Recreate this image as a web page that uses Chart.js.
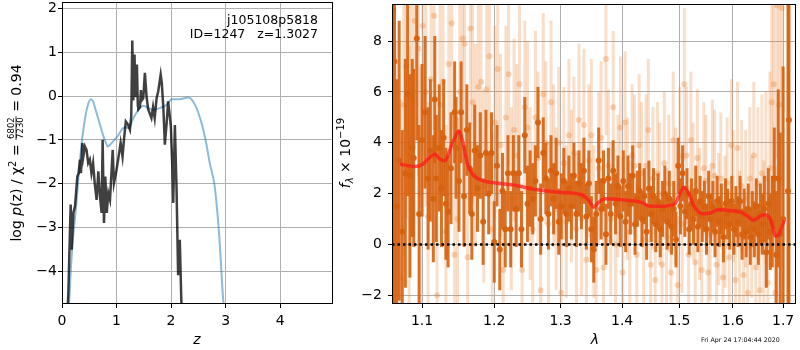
<!DOCTYPE html>
<html>
<head>
<meta charset="utf-8">
<script src="https://cdn.jsdelivr.net/npm/chart.js@4.4.1/dist/chart.umd.min.js"></script>
<style>
  body { margin: 0; background: #fff; width: 800px; height: 350px; overflow: hidden; position: relative; }
  canvas { position: absolute; top: 0; }
  #pz { left: 0; }
  #spec { left: 335px; }
</style>
</head>
<body>
<canvas id="pz" width="335" height="350"></canvas>
<canvas id="spec" width="465" height="350"></canvas>
<script>
// ---- left panel: log p(z) ----
const zTicks = [0, 1, 2, 3, 4];
const pzTicks = [-4, -3, -2, -1, 0, 1, 2];

const darkZ = [0.10, 0.116, 0.159, 0.177, 0.208, 0.238, 0.281, 0.305, 0.33, 0.348, 0.373, 0.391, 0.42, 0.45,
  0.48, 0.51, 0.54, 0.57, 0.60, 0.635, 0.666, 0.696, 0.727, 0.745, 0.77, 0.794, 0.82, 0.85, 0.88, 0.91,
  0.93, 0.953, 0.99, 1.03, 1.075, 1.11, 1.136, 1.17, 1.21, 1.246, 1.27, 1.289, 1.307, 1.33, 1.345, 1.356,
  1.374, 1.39, 1.40, 1.43, 1.447, 1.46, 1.49, 1.52, 1.55, 1.58, 1.61, 1.64, 1.67, 1.70, 1.735, 1.765,
  1.81, 1.83, 1.86, 1.886, 1.92, 1.947, 1.98, 1.996, 2.02, 2.04, 2.07, 2.10, 2.13, 2.16, 2.19, 2.2];
const darkLogp = [-5.0, -4.5, -2.48, -3.51, -2.67, -2.52, -1.84, -1.76, -1.45, -1.76, -1.07, -1.38, -1.15, -1.23,
  -1.53, -1.45, -1.76, -1.53, -1.99, -2.37, -1.72, -2.29, -2.67, -1.0, -2.9, -1.84, -2.67, -2.22, -2.37, -1.68,
  -1.23, -1.99, -1.76, -1.45, -1.07, -1.38, -1.0, -0.58, -0.65, -0.77, -0.46, 1.27, -0.1, 0.95, 0.0, 0.25,
  0.72, -0.2, -0.3, -0.25, 0.14, -0.1, -0.05, 0.53, 0.0, -0.3, -0.4, -0.5, -0.25, -0.5, -0.05, 0.11,
  0.49, 0.3, -0.3, -1.11, -0.6, -0.12, -0.5, -0.69, -1.5, -2.44, -0.66, -2.07, -4.09, -3.28, -4.75, -5.4];

const blueZ = [0.12, 0.165, 0.21, 0.26, 0.30, 0.36, 0.40, 0.44, 0.48, 0.525, 0.57, 0.62, 0.67, 0.72, 0.76, 0.80,
  0.84, 0.89, 0.94, 1.03, 1.12, 1.17, 1.22, 1.31, 1.43, 1.49, 1.58, 1.67, 1.80, 1.92, 2.01, 2.16, 2.32,
  2.44, 2.56, 2.64, 2.71, 2.80, 2.88, 2.96, 3.0];
const blueLogp = [-5.0, -3.89, -3.13, -2.52, -1.9, -1.08, -0.7, -0.39, -0.18, -0.07, -0.12, -0.33, -0.54, -0.75,
  -0.92, -1.05, -1.15, -1.1, -1.03, -0.9, -0.73, -0.72, -0.73, -0.50, -0.27, -0.22, -0.27, -0.31, -0.27, -0.20,
  -0.07, -0.07, -0.03, -0.2, -0.62, -1.05, -1.53, -2.06, -3.13, -4.74, -5.3];

// ---- right panel: spectrum ----
const lamTicks = [1.1, 1.2, 1.3, 1.4, 1.5, 1.6, 1.7];
const fluxTicks = [-2, 0, 2, 4, 6, 8];

const darkLam = [1.062, 1.064, 1.067, 1.070, 1.074, 1.078, 1.081, 1.084, 1.087, 1.089, 1.093, 1.096, 1.100, 1.104,
  1.108, 1.111, 1.115, 1.117, 1.119, 1.123, 1.126, 1.129, 1.132, 1.135, 1.139, 1.144, 1.146, 1.150, 1.153,
  1.157, 1.161, 1.165, 1.168, 1.172, 1.176, 1.180, 1.184, 1.188, 1.192, 1.196, 1.200, 1.204, 1.208, 1.212,
  1.216, 1.220, 1.224, 1.228, 1.232, 1.236, 1.240, 1.245, 1.249, 1.253, 1.257, 1.261, 1.265, 1.269, 1.273,
  1.277, 1.281, 1.285, 1.289, 1.293, 1.297, 1.301, 1.305, 1.309, 1.313, 1.317, 1.321, 1.325, 1.329, 1.333,
  1.337, 1.341, 1.345, 1.349, 1.353, 1.357, 1.361, 1.365, 1.369, 1.373, 1.377, 1.381, 1.385, 1.389, 1.393,
  1.397, 1.402, 1.406, 1.410, 1.414, 1.418, 1.422, 1.426, 1.430, 1.434, 1.438, 1.442, 1.446, 1.450, 1.454,
  1.458, 1.462, 1.466, 1.470, 1.474, 1.478, 1.482, 1.486, 1.490, 1.494, 1.498, 1.502, 1.506, 1.510, 1.514,
  1.518, 1.522, 1.526, 1.530, 1.534, 1.538, 1.542, 1.546, 1.550, 1.554, 1.558, 1.562, 1.566, 1.570, 1.574,
  1.578, 1.582, 1.586, 1.590, 1.594, 1.598, 1.602, 1.606, 1.610, 1.614, 1.618, 1.622, 1.626, 1.630, 1.634,
  1.638, 1.642, 1.646, 1.650, 1.654, 1.658, 1.662, 1.666, 1.670, 1.674, 1.678, 1.682, 1.686, 1.690, 1.694,
  1.700, 1.710, 1.712];
const darkFlux = [9.2, 7.2, 1.5, 3.3, 0.5, 2.8, 5.9, 2.7, 3.8, 3.4, 8.1, 1.2, 4.1, 5.2,
  2.6, 3.7, 1.8, 5.7, 2.6, 3.8, 2.2, 4.2, 1.6, 1.3, 3.0, 5.2, 3.8, 2.5, 5.2,
  1.9, 4.5, 3.0, 1.2, 3.7, 2.2, 3.5, 0.9, 3.6, 2.0, 3.6, 0.1, 3.1, -0.2, 2.1,
  0.6, 2.8, 0.6, 2.8, 1.4, 2.8, 0.6, 4.3, 1.6, 2.2, 1.8, 2.5, 4.8, 1.0, 3.6,
  2.6, 1.2, 2.9, 1.8, 2.8, 0.9, 1.5, 2.5, 1.2, 2.2, 1.5, 2.7, 1.2, 2.4, 1.9,
  2.9, 1.1, 2.4, 0.6, -0.2, 1.2, 3.3, 1.4, 2.5, 0.4, 2.6, 1.2, 2.9, 1.6, 2.3,
  1.1, 2.5, 0.9, 2.3, 1.6, 2.7, 0.8, 1.8, 2.1, 1.0, 1.9, 0.5, 2.2, 1.2, 1.9,
  0.8, 1.7, 0.6, 1.4, 2.0, 0.9, 1.8, 0.7, 1.4, 0.2, 3.1, 1.5, 2.8, 1.3, 2.0,
  0.6, 1.6, 1.0, 2.1, 0.7, 1.7, 1.1, 1.5, 0.6, 1.9, 1.0, 1.5, 0.5, 1.7, 0.9,
  1.4, 0.3, 1.6, 1.2, 0.8, 1.7, 0.6, 1.3, 0.9, 1.7, 0.4, 1.2, 0.5, 1.4, 0.3,
  1.0, 0.6, 1.5, 0.4, 1.2, 0.8, 1.4, -0.3, 1.6, 0.5, 0.9, 2.6, -0.4, 2.6, 0.4,
  1.0, 2.1, 4.9];
const darkErr = [14, 14, 5, 5.5, 4, 4.5, 4, 4, 3.5, 3.5, 4, 3.5, 3, 3,
  2.8, 2.8, 2.5, 2.5, 2.5, 2.5, 2.3, 2.3, 2.2, 2.2, 2.2, 2.0, 2.0, 2.0, 2.0,
  2.0, 1.8, 1.8, 1.8, 1.8, 1.7, 1.7, 1.7, 1.7, 1.6, 1.6, 1.6, 1.6, 1.6, 1.5,
  1.5, 1.5, 1.5, 1.5, 1.5, 1.5, 1.5, 1.5, 1.5, 1.5, 1.4, 1.4, 1.4, 1.4, 1.4,
  1.4, 1.4, 1.4, 1.4, 1.4, 1.3, 1.3, 1.3, 1.3, 1.3, 1.3, 1.3, 1.3, 1.3, 1.3,
  1.3, 1.3, 1.3, 1.3, 1.3, 1.3, 1.3, 1.2, 1.2, 1.2, 1.2, 1.2, 1.2, 1.2, 1.2,
  1.2, 1.2, 1.2, 1.2, 1.2, 1.2, 1.2, 1.1, 1.1, 1.1, 1.1, 1.1, 1.1, 1.1, 1.1,
  1.1, 1.1, 1.1, 1.1, 1.1, 1.1, 1.1, 1.1, 1.1, 1.1, 1.1, 1.1, 1.1, 1.0, 1.0,
  1.0, 1.0, 1.0, 1.0, 1.0, 1.0, 1.0, 1.0, 1.0, 1.0, 1.0, 1.0, 1.0, 1.0, 1.0,
  1.0, 1.0, 1.0, 1.0, 1.0, 1.0, 1.0, 1.0, 1.0, 1.0, 1.0, 1.0, 1.0, 1.0, 1.1,
  1.1, 1.1, 1.1, 1.2, 1.2, 1.2, 1.3, 1.4, 1.4, 1.5, 1.8, 2.0, 2.5, 3.5, 4,
  6, 14, 14];

const lightLam = [1.066, 1.072, 1.076, 1.079, 1.083, 1.086, 1.090, 1.095, 1.098, 1.101, 1.105, 1.108, 1.112, 1.116,
  1.120, 1.124, 1.128, 1.132, 1.136, 1.140, 1.144, 1.148, 1.151, 1.155, 1.158, 1.162, 1.166, 1.169, 1.173,
  1.177, 1.181, 1.185, 1.189, 1.193, 1.197, 1.201, 1.205, 1.209, 1.213, 1.217, 1.221, 1.225, 1.229, 1.233,
  1.237, 1.241, 1.245, 1.249, 1.253, 1.257, 1.261, 1.265, 1.269, 1.273, 1.277, 1.281, 1.285, 1.289, 1.293,
  1.297, 1.301, 1.305, 1.309, 1.313, 1.317, 1.321, 1.325, 1.329, 1.333, 1.337, 1.341, 1.345, 1.349, 1.353,
  1.357, 1.361, 1.365, 1.369, 1.373, 1.377, 1.381, 1.385, 1.389, 1.393, 1.397, 1.401, 1.405, 1.409, 1.413,
  1.417, 1.421, 1.425, 1.429, 1.433, 1.437, 1.441, 1.445, 1.449, 1.453, 1.457, 1.461, 1.465, 1.469, 1.473,
  1.477, 1.481, 1.485, 1.489, 1.493, 1.497, 1.501, 1.505, 1.509, 1.513, 1.517, 1.521, 1.525, 1.529, 1.533,
  1.537, 1.541, 1.545, 1.549, 1.553, 1.557, 1.561, 1.565, 1.569, 1.573, 1.577, 1.581, 1.585, 1.589, 1.593,
  1.597, 1.601, 1.605, 1.609, 1.613, 1.617, 1.621, 1.625, 1.629, 1.633, 1.637, 1.641, 1.645, 1.649, 1.653,
  1.657, 1.661, 1.665, 1.669, 1.673, 1.677, 1.681, 1.684, 1.687, 1.692, 1.697];
const lightFlux = [0.0, -1.3, 5.5, 7.0, 2.3, 5.8, 8.8, 7.7, 2.0, 8.6, 6.0, 1.1, 6.5, 9.0,
  -2.0, 5.5, 6.4, 0.5, 7.1, 8.7, -0.4, 1.0, 6.0, 8.1, 7.9, -0.5, 8.5, 5.6, 3.9,
  6.2, 6.4, 2.3, 6.1, 7.4, 0.6, 4.8, 6.9, 3.9, -1.0, 5.0, 6.7, 1.8, 4.5, 3.5,
  6.3, -1.0, 5.4, 4.6, 2.0, 0.6, 5.0, 3.4, -1.8, 5.9, 4.0, 0.8, 5.6, 3.1, 1.4,
  4.0, -1.9, 3.2, 0.9, 4.3, 2.3, 3.6, 0.6, 4.9, 1.0, 4.7, -0.6, 3.3, 4.3, 0.9,
  -1.0, 3.0, 4.2, -0.9, 7.3, 3.1, 1.0, 5.4, 0.0, 2.3, 4.6, -1.1, 4.8, 2.2, 0.5,
  3.5, 3.1, -0.4, 3.9, 2.8, 0.2, 3.1, 4.5, -0.8, 2.6, -1.4, 2.8, 2.0, -0.8, 3.2,
  0.3, 2.4, -1.1, 4.1, 1.9, -1.6, 3.5, 0.8, 6.3, 3.5, -0.4, 4.1, 2.1, -0.7, 3.4,
  1.2, -1.0, 3.0, 2.5, -1.1, 0.4, 3.1, 2.7, -0.8, 1.0, 2.6, -1.3, 0.9, 2.4, -0.5,
  3.9, 1.9, -1.4, 3.8, 0.3, 2.3, -1.2, 1.8, -1.9, 2.6, 0.7, 3.5, -0.9, 2.4, -1.8,
  2.8, 0.1, 2.6, -1.5, 3.0, 5.6, 6.3, -1.9, 9.4, 5.5, 9.3];
const lightErr = [8, 7, 6, 6, 5.5, 5.5, 5, 5, 5, 4.5, 4.5, 4.5, 4.5, 4.5,
  4.2, 4.2, 4.2, 4.2, 4.2, 4.2, 4.2, 4.0, 4.0, 4.0, 4.0, 4.0, 4.0, 4.0, 4.0,
  3.8, 3.8, 3.8, 3.8, 3.8, 3.8, 3.8, 3.8, 3.6, 3.6, 3.6, 3.6, 3.6, 3.6, 3.6,
  3.4, 3.4, 3.4, 3.4, 3.4, 3.4, 3.4, 3.4, 3.2, 3.2, 3.2, 3.2, 3.2, 3.2, 3.2,
  3.0, 3.0, 3.0, 3.0, 3.0, 3.0, 3.0, 3.0, 3.0, 3.0, 3.0, 3.0, 3.0, 3.0, 3.0,
  3.0, 3.0, 3.0, 3.0, 3.0, 3.0, 3.0, 3.0, 2.8, 2.8, 2.8, 2.8, 2.8, 2.8, 2.8,
  2.8, 2.8, 2.8, 2.8, 2.8, 2.8, 2.8, 2.8, 2.8, 2.8, 2.8, 2.8, 2.8, 2.8, 2.8,
  2.7, 2.7, 2.7, 2.7, 2.7, 2.7, 2.7, 2.7, 3.0, 2.7, 2.7, 2.7, 2.7, 2.7, 2.7,
  2.6, 2.6, 2.6, 2.6, 2.6, 2.6, 2.6, 2.6, 2.6, 2.6, 2.6, 2.6, 2.6, 2.6, 2.6,
  2.6, 2.6, 2.6, 2.6, 2.6, 2.6, 2.6, 2.7, 2.7, 2.8, 2.8, 2.9, 2.9, 3.0, 3.0,
  3.1, 3.2, 3.4, 3.6, 3.8, 4.2, 4.6, 5, 6, 6, 7];

const modelLam = [1.071, 1.090, 1.101, 1.110, 1.117, 1.124, 1.130, 1.142, 1.150, 1.155, 1.162, 1.169, 1.183, 1.202,
  1.232, 1.261, 1.302, 1.334, 1.345, 1.353, 1.361, 1.372, 1.399, 1.433, 1.448, 1.468, 1.492, 1.501, 1.508,
  1.516, 1.528, 1.543, 1.559, 1.571, 1.597, 1.616, 1.629, 1.640, 1.655, 1.665, 1.675, 1.685, 1.692, 1.702];
const modelFlux = [3.16, 3.07, 3.16, 3.42, 3.55, 3.36, 3.29, 4.07, 4.46, 4.07, 3.16, 2.77, 2.51, 2.42,
  2.32, 2.16, 2.05, 1.95, 1.73, 1.47, 1.66, 1.80, 1.76, 1.66, 1.50, 1.50, 1.60, 1.99, 2.25,
  2.05, 1.47, 1.21, 1.25, 1.37, 1.33, 1.27, 1.11, 0.95, 1.14, 1.17, 0.95, 0.33, 0.43, 0.95];

const zeroLam = [1.0608, 1.7266];
const zeroFlux = [0, 0];

// ---- helpers ----
const FONT = '"DejaVu Sans", sans-serif';
Chart.defaults.font.family = FONT;
Chart.defaults.font.size = 14;
Chart.defaults.color = '#000';

const pts = (xs, ys) => xs.map((x, i) => ({ x: x, y: ys[i] }));
const setTicks = values => scale => { scale.ticks = values.map(v => ({ value: v })); };
const minus = v => (v < 0 ? '\u2212' + Math.abs(v) : String(v));
const fitWidth = w => s => { s.width = w; s.paddingTop = 0; s.paddingBottom = 0; };
const fitHeight = h => s => { s.height = h; s.paddingLeft = 0; s.paddingRight = 0; };

// black box around the plot area, like matplotlib spines
const frame = {
  id: 'frame',
  afterDraw(chart) {
    const { ctx, chartArea: a } = chart;
    ctx.save();
    ctx.strokeStyle = '#000';
    ctx.lineWidth = 1;
    ctx.strokeRect(a.left + 0.5, a.top + 0.5, a.width - 1, a.height - 1);
    ctx.restore();
  }
};

// vertical error bars drawn right before each dataset's markers
const errorBars = {
  id: 'errorBars',
  beforeDatasetDraw(chart, args) {
    const ds = chart.data.datasets[args.index];
    if (!ds.errors) return;
    const { ctx, chartArea: a, scales } = chart;
    ctx.save();
    ctx.beginPath();
    ctx.rect(a.left, a.top, a.width, a.height);
    ctx.clip();
    ctx.strokeStyle = ds.barColor;
    ctx.lineWidth = ds.barWidth;
    ds.data.forEach((p, i) => {
      const x = scales.x.getPixelForValue(p.x);
      ctx.beginPath();
      ctx.moveTo(x, scales.y.getPixelForValue(p.y - ds.errors[i]));
      ctx.lineTo(x, scales.y.getPixelForValue(p.y + ds.errors[i]));
      ctx.stroke();
    });
    ctx.restore();
  }
};

// draws a run of text pieces along the current baseline, centred on 0
function richText(ctx, parts) {
  let total = 0;
  parts.forEach(p => {
    ctx.font = p.font;
    if (p.frac) {
      p.w = Math.max(ctx.measureText(p.frac[0]).width, ctx.measureText(p.frac[1]).width) + 2;
    } else {
      p.w = ctx.measureText(p.t).width;
    }
    total += p.w;
  });
  let x = -total / 2;
  ctx.textAlign = 'left';
  ctx.textBaseline = 'alphabetic';
  parts.forEach(p => {
    ctx.font = p.font;
    if (p.frac) {
      ctx.textAlign = 'center';
      ctx.fillText(p.frac[0], x + p.w / 2, p.num);
      ctx.fillText(p.frac[1], x + p.w / 2, p.den);
      ctx.fillRect(x, p.bar, p.w, 0.8);
      ctx.textAlign = 'left';
    } else {
      ctx.fillText(p.t, x, p.dy || 0);
    }
    x += p.w;
  });
}

const pzTitles = {
  id: 'pzTitles',
  afterDraw(chart) {
    const ctx = chart.ctx;
    ctx.save();
    ctx.fillStyle = '#000';
    ctx.font = 'italic 14px ' + FONT;
    ctx.textAlign = 'center';
    ctx.fillText('z', 197, 344);
    ctx.font = '12.5px ' + FONT;
    ctx.textAlign = 'right';
    ctx.fillText('j105108p5818', 318, 24);
    ctx.fillText('ID=1247   z=1.3027', 318, 38);
    ctx.translate(21, 153);
    ctx.rotate(-Math.PI / 2);
    const n = '14px ' + FONT, it = 'italic 14px ' + FONT, s = '10px ' + FONT;
    richText(ctx, [
      { t: 'log ', font: n }, { t: 'p', font: it }, { t: '(z) / \u03c7', font: n },
      { t: '2', font: s, dy: -5.5 }, { t: ' = ', font: n },
      { frac: ['6802', '7230'], font: '8.5px ' + FONT, num: -6.6, den: 1.8, bar: -5.4 },
      { t: ' = 0.94', font: n }
    ]);
    ctx.restore();
  }
};

const specTitles = {
  id: 'specTitles',
  afterDraw(chart) {
    const ctx = chart.ctx;
    ctx.save();
    ctx.fillStyle = '#000';
    ctx.font = 'italic 14px ' + FONT;
    ctx.textAlign = 'center';
    ctx.fillText('\u03bb', 260, 344);
    ctx.font = '6.3px ' + FONT;
    ctx.textAlign = 'left';
    ctx.fillText('Fri Apr 24 17:04:44 2020', 366, 342);
    ctx.translate(15, 153);
    ctx.rotate(-Math.PI / 2);
    richText(ctx, [
      { t: 'f', font: 'italic 14px ' + FONT }, { t: '\u03bb', font: 'italic 10px ' + FONT, dy: 3 },
      { t: ' \u00d7 10', font: '14px ' + FONT }, { t: '\u221219', font: '10px ' + FONT, dy: -6 }
    ]);
    ctx.restore();
  }
};

const gridOpts = { color: '#b0b0b0', lineWidth: 1, tickColor: '#000', tickLength: 4 };
const common = {
  responsive: false,
  animation: false,
  events: [],
  plugins: { legend: { display: false }, tooltip: { enabled: false } }
};

new Chart(document.getElementById('pz'), {
  type: 'scatter',
  data: {
    datasets: [
      { data: pts(darkZ, darkLogp), showLine: true, borderColor: 'rgba(0,0,0,0.75)', borderWidth: 2.5, pointRadius: 0,
        order: 1 },
      { data: pts(blueZ, blueLogp), showLine: true, borderColor: 'rgba(31,119,180,0.5)', borderWidth: 2, pointRadius: 0,
        cubicInterpolationMode: 'monotone', order: 2 }
    ]
  },
  options: Object.assign({}, common, {
    layout: { padding: { top: 2, right: 2, left: 0, bottom: 0 } },
    scales: {
      x: { type: 'linear', min: 0, max: 4.97, grid: gridOpts, border: { display: false },
        afterBuildTicks: setTicks(zTicks), afterFit: fitHeight(46), ticks: { padding: 5, callback: minus } },
      y: { type: 'linear', min: -4.75, max: 2.15, grid: gridOpts, border: { display: false },
        afterBuildTicks: setTicks(pzTicks), afterFit: fitWidth(62), ticks: { padding: 1, callback: minus } }
    }
  }),
  plugins: [frame, pzTitles]
});

// lower "order" is drawn on top in Chart.js
new Chart(document.getElementById('spec'), {
  type: 'scatter',
  data: {
    datasets: [
      { data: pts(lightLam, lightFlux), errors: lightErr, barColor: 'rgba(232,122,40,0.25)', barWidth: 3,
        pointRadius: 3, backgroundColor: 'rgba(232,122,40,0.3)', borderWidth: 0, order: 4 },
      { data: pts(darkLam, darkFlux), errors: darkErr, barColor: 'rgba(214,98,16,0.9)', barWidth: 3,
        pointRadius: 3, backgroundColor: 'rgba(214,98,16,0.95)', borderWidth: 0, order: 3 },
      { data: pts(modelLam, modelFlux), showLine: true, borderColor: 'rgba(255,25,25,0.72)', borderWidth: 3.5,
        pointRadius: 0, cubicInterpolationMode: 'monotone', order: 2 },
      { data: pts(zeroLam, zeroFlux), showLine: true, borderColor: '#000', borderWidth: 2.5, borderDash: [2.5, 3],
        pointRadius: 0, order: 1 }
    ]
  },
  options: Object.assign({}, common, {
    layout: { padding: { top: 2, right: 1, left: 0, bottom: 0 } },
    scales: {
      x: { type: 'logarithmic', min: 1.0608, max: 1.7266, grid: gridOpts, border: { display: false },
        afterBuildTicks: setTicks(lamTicks), afterFit: fitHeight(46),
        ticks: { padding: 5, callback: v => Number(v).toFixed(1) } },
      y: { type: 'linear', min: -2.34, max: 9.46, grid: gridOpts, border: { display: false },
        afterBuildTicks: setTicks(fluxTicks), afterFit: fitWidth(57), ticks: { padding: 6, callback: minus } }
    }
  }),
  plugins: [errorBars, frame, specTitles]
});
</script>
</body>
</html>
